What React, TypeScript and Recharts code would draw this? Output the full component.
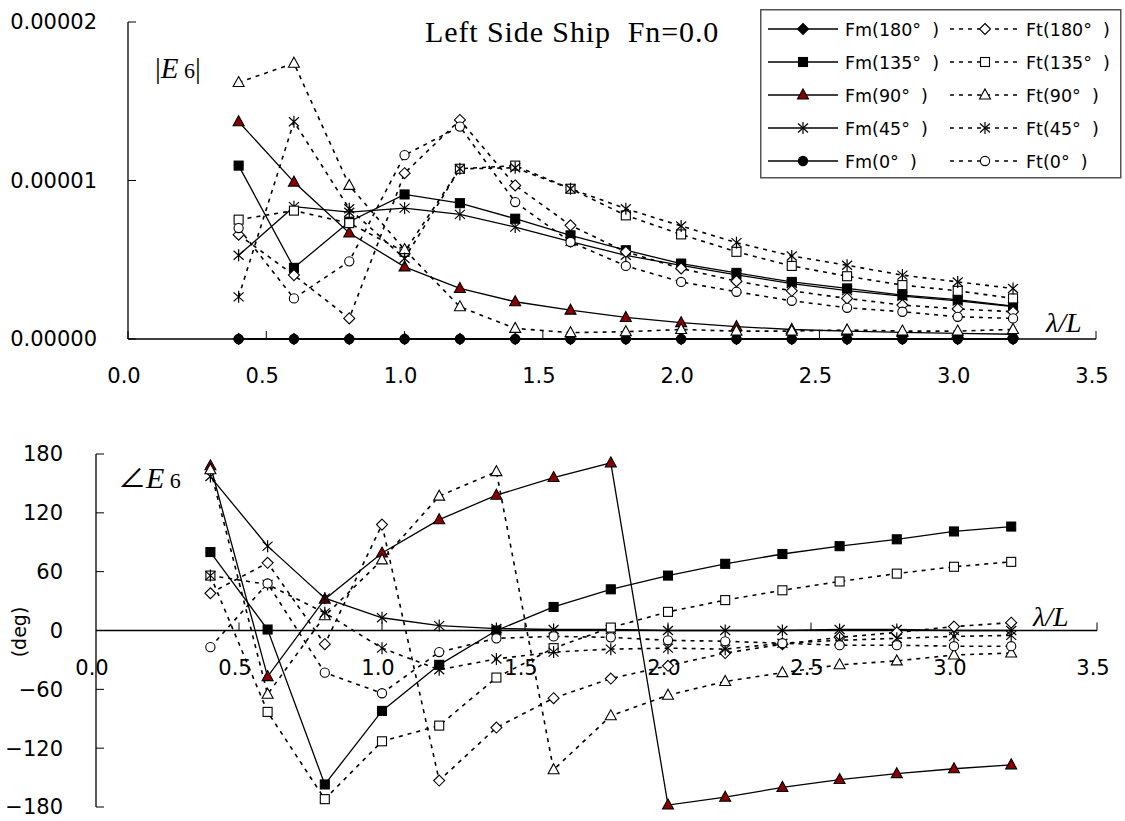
import React from 'react';
import { LineChart, Line, XAxis, YAxis, ReferenceLine, ReferenceDot, Legend } from 'recharts';

// wave length ratio lambda/L
const lambda = [0.4, 0.6, 0.8, 1.0, 1.2, 1.4, 1.6, 1.8, 2.0, 2.2, 2.4, 2.6, 2.8, 3.0, 3.2];

// |E6|, in units of 1e-5
const ampFm180 = [0, 0, 0, 0, 0, 0, 0, 0, 0, 0, 0, 0, 0, 0, 0];
const ampFm135 = [1.094, 0.449, 0.74, 0.912, 0.857, 0.759, 0.654, 0.56, 0.476, 0.417, 0.36, 0.319, 0.277, 0.249, 0.208];
const ampFm90 = [1.371, 0.99, 0.669, 0.455, 0.319, 0.235, 0.182, 0.136, 0.103, 0.078, 0.06, 0.05, 0.042, 0.035, 0.03];
const ampFm45 = [0.528, 0.835, 0.8, 0.826, 0.786, 0.706, 0.615, 0.528, 0.465, 0.405, 0.35, 0.305, 0.27, 0.24, 0.205];
const ampFm0 = [0, 0, 0, 0, 0, 0, 0, 0, 0, 0, 0, 0, 0, 0, 0];
const ampFt180 = [0.658, 0.403, 0.13, 1.046, 1.382, 0.969, 0.717, 0.55, 0.445, 0.365, 0.304, 0.256, 0.214, 0.19, 0.172];
const ampFt135 = [0.753, 0.81, 0.731, 0.55, 1.074, 1.094, 0.948, 0.78, 0.66, 0.55, 0.461, 0.396, 0.34, 0.304, 0.256];
const ampFt90 = [1.618, 1.74, 0.969, 0.564, 0.203, 0.067, 0.04, 0.046, 0.06, 0.05, 0.05, 0.057, 0.05, 0.05, 0.06];
const ampFt45 = [0.266, 1.371, 0.822, 0.508, 1.074, 1.08, 0.948, 0.822, 0.713, 0.608, 0.524, 0.465, 0.403, 0.36, 0.319];
const ampFt0 = [0.7, 0.256, 0.49, 1.16, 1.34, 0.864, 0.612, 0.461, 0.36, 0.298, 0.241, 0.197, 0.172, 0.14, 0.13];

// phase of E6 in degrees (lower panel)
const phFm135 = [80, 1, -157, -82, -35, 0, 24, 42, 56, 68, 78, 86, 93, 101, 106];
const phFm90 = [168, -47, 32, 79, 113, 138, 156, 171, -178, -170, -160, -152, -146, -141, -137];
const phFm45 = [157, 86, 33, 13, 5, 2, 1, 1, 0, 0, 0, 1, 1, 0, 0];
const phFt180 = [38, 69, -14, 108, -153, -99, -69, -49, -36, -23, -14, -7, -2, 4, 8];
const phFt135 = [56, -83, -172, -113, -97, -48, -18, 3, 19, 31, 41, 50, 58, 65, 70];
const phFt90 = [164, -65, 15, 72, 137, 162, -142, -87, -66, -52, -43, -35, -31, -25, -23];
const phFt45 = [56, 47, 18, -18, -40, -29, -22, -19, -18, -19, -13, -10, -8, -6, -5];
const phFt0 = [-17, 48, -43, -64, -22, -8, -6, -7, -10, -11, -13, -15, -15, -16, -16];

const xTicks = [0, 0.5, 1.0, 1.5, 2.0, 2.5, 3.0, 3.5];
const ampTicks = [0, 0.00001, 0.00002];
const phaseTicks = [-180, -120, -60, 0, 60, 120, 180];

const headings = ['180', '135', '90', '45', '0'];
const AMP_UNIT = 1e-5;

type Kind = 'diamond' | 'square' | 'triangle' | 'star' | 'circle';
const kinds: Kind[] = ['diamond', 'square', 'triangle', 'star', 'circle'];

interface SeriesMeta {
  key: string;
  label: string;
  kind: Kind;
  filled: boolean;
}

const fmSeries: SeriesMeta[] = headings.map((h, i) => ({ key: `Fm${h}`, label: `Fm(${h}°  )`, kind: kinds[i], filled: true }));
const ftSeries: SeriesMeta[] = headings.map((h, i) => ({ key: `Ft${h}`, label: `Ft(${h}°  )`, kind: kinds[i], filled: false }));
const allSeries = [...fmSeries, ...ftSeries];

const ampRows = lambda.map((l, i) => ({
  lambda: l,
  Fm180: ampFm180[i] * AMP_UNIT,
  Fm135: ampFm135[i] * AMP_UNIT,
  Fm90: ampFm90[i] * AMP_UNIT,
  Fm45: ampFm45[i] * AMP_UNIT,
  Fm0: ampFm0[i] * AMP_UNIT,
  Ft180: ampFt180[i] * AMP_UNIT,
  Ft135: ampFt135[i] * AMP_UNIT,
  Ft90: ampFt90[i] * AMP_UNIT,
  Ft45: ampFt45[i] * AMP_UNIT,
  Ft0: ampFt0[i] * AMP_UNIT,
}));

const phaseRows = lambda.map((l, i) => ({
  lambda: l,
  Fm135: phFm135[i],
  Fm90: phFm90[i],
  Fm45: phFm45[i],
  Ft180: phFt180[i],
  Ft135: phFt135[i],
  Ft90: phFt90[i],
  Ft45: phFt45[i],
  Ft0: phFt0[i],
}));
const phaseSeries = allSeries.filter((s) => s.key !== 'Fm180' && s.key !== 'Fm0');

const NUM_FONT = '"DejaVu Sans", sans-serif';
const SERIF = '"Liberation Serif", "Times New Roman", serif';

const Marker = ({ cx, cy, kind, filled }: { cx: number; cy: number; kind: Kind; filled: boolean }) => {
  const fill = filled ? (kind === 'triangle' ? '#8b0000' : '#000') : '#fff';
  const common = { fill, stroke: '#000', strokeWidth: 1.1 };
  if (kind === 'diamond') {
    const r = 5.5;
    return <polygon points={`${cx},${cy - r} ${cx + r},${cy} ${cx},${cy + r} ${cx - r},${cy}`} {...common} />;
  }
  if (kind === 'square') {
    return <rect x={cx - 4.5} y={cy - 4.5} width={9} height={9} {...common} />;
  }
  if (kind === 'triangle') {
    return <polygon points={`${cx},${cy - 6} ${cx + 5.5},${cy + 4} ${cx - 5.5},${cy + 4}`} {...common} />;
  }
  if (kind === 'circle') {
    return <circle cx={cx} cy={cy} r={4.6} {...common} />;
  }
  return (
    <g stroke="#000" strokeWidth={1.2}>
      <line x1={cx} y1={cy - 6} x2={cx} y2={cy + 6} />
      <line x1={cx - 5} y1={cy - 4.5} x2={cx + 5} y2={cy + 4.5} />
      <line x1={cx - 5} y1={cy + 4.5} x2={cx + 5} y2={cy - 4.5} />
    </g>
  );
};

const renderLine = (s: SeriesMeta) => (
  <Line
    key={s.key}
    type="linear"
    dataKey={s.key}
    name={s.label}
    stroke="#000"
    strokeWidth={s.filled ? 1.3 : 1.6}
    strokeDasharray={s.filled ? undefined : '4 5'}
    isAnimationActive={false}
    activeDot={false}
    dot={(p: any) =>
      p.cx == null || p.cy == null ? (
        <g key={`${s.key}-${p.index}`} />
      ) : (
        <Marker key={`${s.key}-${p.index}`} cx={p.cx} cy={p.cy} kind={s.kind} filled={s.filled} />
      )
    }
  />
);

const LegendBox = () => (
  <svg width={362} height={170}>
    <rect x={0.75} y={0.75} width={360} height={168} fill="#fff" stroke="#555" strokeWidth={1.5} />
    {headings.map((h, i) => {
      const y = 20 + i * 33;
      const fm = fmSeries[i];
      const ft = ftSeries[i];
      return (
        <g key={h}>
          <line x1={8} y1={y} x2={78} y2={y} stroke="#000" strokeWidth={1.3} />
          <Marker cx={43} cy={y} kind={fm.kind} filled />
          <text x={85} y={y + 6.5} fontSize={17.5} fontFamily={NUM_FONT} style={{ whiteSpace: 'pre' }}>
            {fm.label}
          </text>
          <line x1={190} y1={y} x2={257} y2={y} stroke="#000" strokeWidth={1.6} strokeDasharray="4 5" />
          <Marker cx={225} cy={y} kind={ft.kind} filled={false} />
          <text x={266} y={y + 6.5} fontSize={17.5} fontFamily={NUM_FONT} style={{ whiteSpace: 'pre' }}>
            {ft.label}
          </text>
        </g>
      );
    })}
  </svg>
);

const tickStyle = { fill: '#000', fontSize: 21, fontFamily: NUM_FONT };

const PhaseAxisTick = ({ cx, cy, value }: { cx: number; cy: number; value: number }) => (
  <g>
    {value > 0 && <line x1={cx} y1={cy} x2={cx} y2={cy - 8} stroke="#000" strokeWidth={1} />}
    <text x={cx - 4} y={cy + 44} textAnchor="middle" fontSize={21} fontFamily={NUM_FONT} fill="#000">
      {value.toFixed(1)}
    </text>
  </g>
);

const fmtPhase = (v: number) => (v < 0 ? `\u2212${Math.abs(v)}` : `${v}`);

export default function App() {
  return (
    <div style={{ position: 'absolute', left: 0, top: 0, width: 1125, height: 821, background: '#fff' }}>
      <div style={{ position: 'absolute', left: 0, top: 0 }}>
        <LineChart width={1125} height={400} data={ampRows} margin={{ top: 22, right: 29, bottom: 0, left: 28 }}>
          <XAxis
            dataKey="lambda"
            type="number"
            domain={[0, 3.5]}
            ticks={xTicks}
            tickFormatter={(v: number) => v.toFixed(1)}
            height={61}
            tickSize={-8}
            tickMargin={37}
            tick={{ ...tickStyle, dx: -4 }}
            axisLine={{ stroke: '#000', strokeWidth: 1.3 }}
            tickLine={{ stroke: '#000' }}
          />
          <YAxis
            type="number"
            domain={[0, 0.00002]}
            ticks={ampTicks}
            width={100}
            tickSize={-8}
            tickMargin={39}
            tickFormatter={(v: number) => v.toFixed(5)}
            tick={tickStyle}
            axisLine={{ stroke: '#000', strokeWidth: 1.3 }}
            tickLine={{ stroke: '#000' }}
          />
          {allSeries.map(renderLine)}
          <Legend
            content={() => <LegendBox />}
            layout="vertical"
            align="center"
            verticalAlign="middle"
            wrapperStyle={{ position: 'absolute', left: 760, top: 9, width: 362, height: 170 }}
          />
        </LineChart>
      </div>
      <div style={{ position: 'absolute', left: 0, top: 400 }}>
        <LineChart width={1125} height={421} data={phaseRows} margin={{ top: 54, right: 28, bottom: 14, left: 36 }}>
          <XAxis dataKey="lambda" type="number" domain={[0, 3.5]} hide />
          <YAxis
            type="number"
            domain={[-180, 180]}
            ticks={phaseTicks}
            width={60}
            tickSize={-8}
            tickMargin={41}
            tickFormatter={fmtPhase}
            tick={tickStyle}
            axisLine={{ stroke: '#000', strokeWidth: 1.3 }}
            tickLine={{ stroke: '#000' }}
          />
          <ReferenceLine y={0} stroke="#000" strokeWidth={1.5} />
          {xTicks.map((t) => (
            <ReferenceDot
              key={t}
              x={t}
              y={0}
              r={0}
              shape={(p: any) => <PhaseAxisTick cx={p.cx} cy={p.cy} value={t} />}
            />
          ))}
          {phaseSeries.map(renderLine)}
        </LineChart>
      </div>
      <svg width={1125} height={821} style={{ position: 'absolute', left: 0, top: 0, pointerEvents: 'none' }}>
        <text x={425} y={42} fontSize={30} letterSpacing={0.9} fontFamily={SERIF} style={{ whiteSpace: 'pre' }}>
          {'Left Side Ship  Fn=0.0'}
        </text>
        <text x={155} y={78} fontSize={29} fontFamily={SERIF} style={{ whiteSpace: 'pre' }}>
          |<tspan fontStyle="italic">E</tspan>
          <tspan fontSize={22}>{' 6'}</tspan>|
        </text>
        <text x={1046} y={332} fontSize={28} fontFamily={SERIF} fontStyle="italic">
          λ/L
        </text>
        <text x={118} y={488} fontSize={30} fontFamily={SERIF} style={{ whiteSpace: 'pre' }}>
          <tspan fontFamily='"Noto Sans CJK JP", sans-serif' fontSize={28}>∠</tspan>
          <tspan fontStyle="italic">E</tspan>
          <tspan fontSize={22}>{' 6'}</tspan>
        </text>
        <text x={1033} y={626} fontSize={28} fontFamily={SERIF} fontStyle="italic">
          λ/L
        </text>
        <text
          x={19}
          y={632}
          fontSize={19}
          fontFamily={NUM_FONT}
          textAnchor="middle"
          dominantBaseline="central"
          transform="rotate(-90 19 632)"
        >
          (deg)
        </text>
      </svg>
    </div>
  );
}
